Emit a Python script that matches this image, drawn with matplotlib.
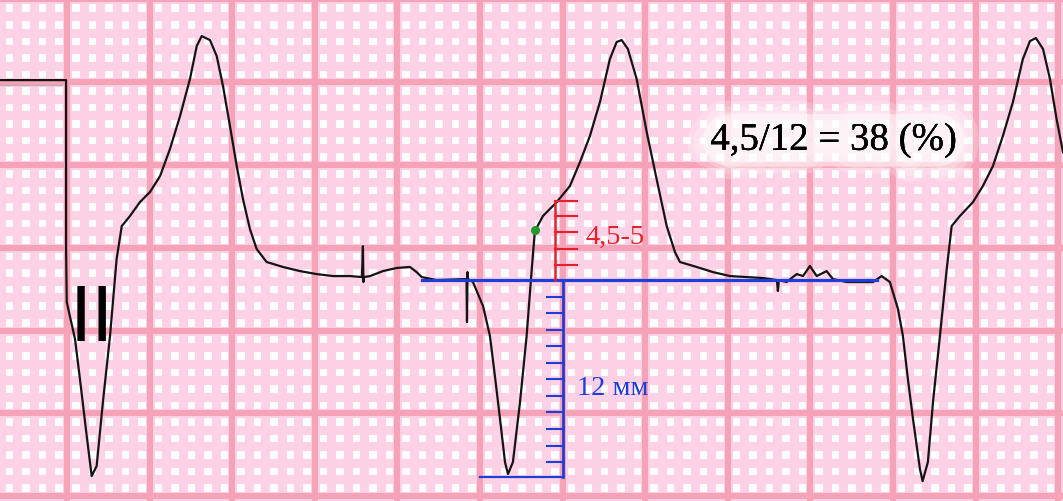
import numpy as np
import matplotlib.pyplot as plt
import matplotlib.patheffects as pe

# ECG lead II, paper units: time and amplitude in mm (1 small square = 1 mm)
# amplitude is measured from the isoelectric line
t_mm = [0, 4.00, 4.00, 4.04, 4.54, 4.84, 5.25, 5.55, 5.85, 6.23, 6.66, 7.06, 7.37,
        7.87, 8.47, 9.08, 9.69, 10.29, 10.90, 11.50, 11.91, 12.21, 12.71, 13.12,
        13.50, 13.92, 14.33, 14.71, 15.13, 15.54, 16.14, 17.13, 18.16, 19.17,
        20.16, 21.19, 21.91, 21.97, 22.00, 22.03, 22.40, 23.18, 24.01, 24.82,
        25.22, 25.53, 26.43, 28.24, 28.27, 28.30, 28.33, 28.63, 29.24, 29.66,
        29.96, 30.27, 30.57, 30.75, 31.05, 31.48, 31.88, 32.19, 32.38, 32.87,
        33.70, 34.50, 35.11, 35.71, 36.32, 36.92, 37.33, 37.63, 38.01, 38.54,
        39.15, 39.75, 40.36, 40.86, 41.16, 42.17, 43.16, 44.19, 45.20, 46.19,
        47.03, 47.09, 47.15, 47.62, 48.23, 48.61, 49.03, 49.44, 50.04, 50.42,
        51.25, 52.85, 53.37, 53.87, 54.36, 54.66, 54.96, 55.27, 55.69, 55.85,
        56.17, 56.48, 56.90, 57.31, 57.61, 58.11, 58.90, 59.50, 60.11, 60.71,
        61.32, 61.92, 62.35, 62.71, 63.14, 63.56, 63.96, 64.35]
amp_mm = [12.08, 12.08, 1.87, -1.33, -3.56, -5.98, -9.43, -11.84, -11.24, -7.37,
          -3.38, 1.27, 3.26, 3.87, 4.71, 5.32, 6.28, 7.92, 9.91, 12.15, 14.14,
          14.74, 14.50, 13.53, 11.72, 9.31, 6.89, 4.89, 3.08, 1.87, 1.09, 0.79,
          0.54, 0.36, 0.24, 0.24, 0.18, 2.05, -0.12, 0.18, 0.24, 0.54, 0.73,
          0.79, 0.48, 0.18, 0.0, 0.06, -2.54, 0.48, 0.06, -0.12, -1.57, -3.38,
          -5.80, -8.40, -11.00, -11.72, -11.00, -7.37, -3.38, 0.66, 2.96, 3.87,
          4.71, 5.68, 7.13, 8.70, 10.76, 13.35, 14.38, 14.50, 13.96, 12.15,
          8.94, 6.10, 3.26, 1.69, 1.09, 0.79, 0.48, 0.24, 0.18, 0.12, 0.0,
          -0.66, 0.0, -0.12, 0.36, 0.24, 0.85, 0.24, 0.54, 0.06, -0.12, -0.12,
          0.24, -0.12, -1.75, -3.38, -5.98, -8.40, -11.42, -12.15, -11.00,
          -7.37, -3.38, 0.66, 3.26, 3.87, 4.71, 5.68, 6.89, 8.70, 10.76, 13.35,
          14.44, 14.62, 13.96, 12.15, 9.73, 7.73]

# measurement of the second complex
iso_start, iso_end = 25.53, 53.07
s_depth = 11.9                     # 12 mm
s_ticks = list(range(1, 12))
st_x = 34.10
j_x = 33.60
j_ticks = [0.9, 1.9, 2.9, 3.85, 4.75]
j_height = 4.75
j_point = (32.38, 3.02)

label_j = "4,5-5"
label_s = "12 мм"
label_ratio = "4,5/12 = 38 (%)"
lead = "II"

# paper grid
x0, x1 = 0.0, 64.35
y0, y1 = -13.35, 16.98
major_x0 = 4.056
major_y0 = -13.05

pink_minor = "#fdd2e6"
pink_major = "#f6a2b8"
blue = "#1c3fd8"
red = "#e2232b"

fig = plt.figure(figsize=(10.63, 5.02), dpi=100)
ax = fig.add_axes([0, 0, 1, 1])
ax.set_xlim(x0, x1)
ax.set_ylim(y0, y1)
ax.set_facecolor("white")
for s in ax.spines.values():
    s.set_visible(False)
ax.set_xticks([])
ax.set_yticks([])

for xm in np.arange(major_x0 - 5, x1 + 1, 1.0):
    ax.axvline(xm, color=pink_minor, lw=6.6, zorder=0)
for ym in np.arange(major_y0, y1 + 1, 1.0):
    ax.axhline(ym, color=pink_minor, lw=6.6, zorder=0)
for xm in np.arange(major_x0, x1 + 1, 5.0):
    ax.axvline(xm, color=pink_major, lw=4.4, zorder=1)
for ym in np.arange(major_y0, y1 + 1, 5.0):
    ax.axhline(ym, color=pink_major, lw=4.4, zorder=1)

# faint double of the calibration pulse
ax.plot([0, 3.75], [11.78, 11.78], color="#888888", lw=0.9, alpha=0.5, zorder=2)

# trace
ax.plot(t_mm, amp_mm, color="#141414", lw=1.6, zorder=4, solid_joinstyle="round")

# blue isoelectric line and S-wave scale
ax.plot([iso_start, iso_end], [0, 0], color=blue, lw=2.3, zorder=5)
ax.plot([st_x, st_x], [0, -s_depth], color=blue, lw=2.0, zorder=5)
ax.plot([29.06, st_x], [-s_depth, -s_depth], color=blue, lw=1.6, zorder=5)
for k in s_ticks:
    ax.plot([st_x - 1.0, st_x], [-k, -k], color=blue, lw=1.5, zorder=5)

# red J-point scale
ax.plot([j_x, j_x], [0, j_height], color=red, lw=1.8, zorder=5)
for k in j_ticks:
    ax.plot([j_x, j_x + 1.3], [k, k], color=red, lw=1.5, zorder=5)
ax.plot(*j_point, "o", color="#1f9a30", ms=5.5, zorder=6)

serif = ["Liberation Serif", "DejaVu Serif"]
ax.text(35.45, 2.24, label_j, color=red, fontsize=20.5, family=serif,
        va="baseline", ha="left", zorder=6)
ax.text(34.91, -6.89, label_s, color=blue, fontsize=20.5, family=serif,
        va="baseline", ha="left", zorder=6)

glow = [pe.withStroke(linewidth=w, foreground="white", alpha=0.22) for w in (34, 26, 18, 10)]
ax.text(43.0, 7.87, label_ratio, color="black", fontsize=28, family=serif,
        va="baseline", ha="left", zorder=7, path_effects=glow + [pe.Normal()],
        bbox=dict(boxstyle="round,pad=0.2,rounding_size=0.8", fc="white",
                  ec="none", alpha=0.4))

ax.text(4.2, -0.2, lead, color="black", fontsize=54, family="DejaVu Sans",
        va="top", ha="left", zorder=6)

fig.savefig("out.png", dpi=100)
